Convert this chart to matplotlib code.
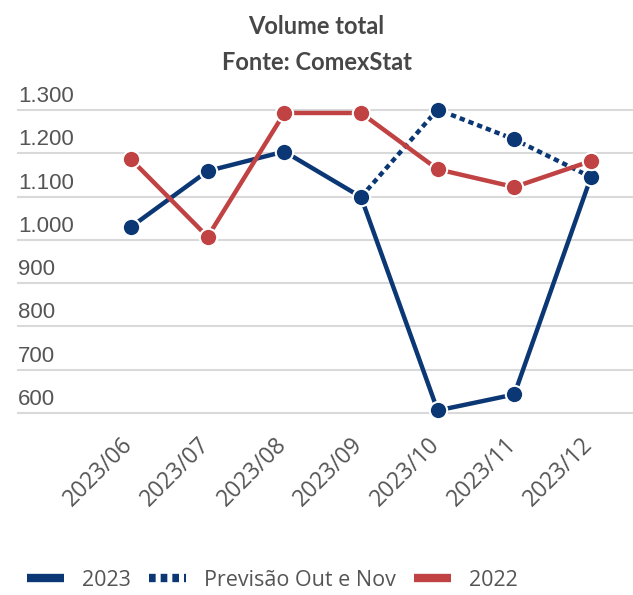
import matplotlib
matplotlib.use("Agg")
import matplotlib.pyplot as plt
from matplotlib.lines import Line2D
from matplotlib.transforms import blended_transform_factory, ScaledTranslation

months = ["2023/06", "2023/07", "2023/08", "2023/09", "2023/10", "2023/11", "2023/12"]
vol_2023 = [1030, 1159, 1204, 1099, 606, 643, 1145]
vol_prev = [None, None, None, 1099, 1301, 1232, 1145]
vol_2022 = [1186, 1007, 1293, 1293, 1163, 1122, 1182]
yticks = [600, 700, 800, 900, 1000, 1100, 1200, 1300]
ylabels = ["600", "700", "800", "900", "1.000", "1.100", "1.200", "1.300"]

navy = "#0b3875"
red = "#c14242"
grey_txt = "#555555"

fig = plt.figure(figsize=(6.33, 5.95), dpi=100)
W, H = 633, 595
ax = fig.add_axes([17 / W, (H - 420) / H, (633 - 17) / W, 320 / H])

x = list(range(len(months)))
xp = [i for i, v in zip(x, vol_prev) if v is not None]
yp = [v for v in vol_prev if v is not None]

mk = dict(marker="o", markersize=12.5, markeredgecolor="white", markeredgewidth=1.5)
ax.plot(xp, yp, color=navy, lw=3.2, ls=(0, (1.2, 0.9)), zorder=3, **mk)
ax.plot(x, vol_2023, color=navy, lw=3.2, zorder=4, solid_capstyle="butt", **mk)
ax.plot(x, vol_2022, color=red, lw=3.2, zorder=5, **mk)

ax.set_xlim(-1.487, 6.548)
ax.set_ylim(584, 1323)
ax.set_yticks(yticks)
ax.set_yticklabels([])
ax.tick_params(axis="y", length=0)
ax.grid(axis="y", color="#d9d9d9", lw=1.5, zorder=0)
for s in ax.spines.values():
    s.set_visible(False)

trans = blended_transform_factory(fig.transFigure, ax.transData)
for v, lab in zip(yticks, ylabels):
    fig.text(18 / W, v + 7, lab, transform=trans, ha="left", va="bottom",
             fontsize=16, color=grey_txt, family="Liberation Sans")

ax.set_xticks(x)
ax.set_xticklabels(months, rotation=45, ha="right", va="top", rotation_mode="anchor",
                   fontsize=16.5, color=grey_txt, family="Open Sans")
ax.tick_params(axis="x", length=0, pad=9)
shift = ScaledTranslation(-10 / 100, 0, fig.dpi_scale_trans)
for lbl in ax.get_xticklabels():
    lbl.set_transform(lbl.get_transform() + shift)

fig.text(0.5, 1 - 27 / H, "Volume total", ha="center", va="center",
         fontsize=17, fontweight="bold", color="#474747", family="Lato")
fig.text(0.5, 1 - 62 / H, "Fonte: ComexStat", ha="center", va="center",
         fontsize=17, fontweight="bold", color="#474747", family="Lato")

handles = [
    Line2D([], [], color=navy, lw=6, solid_capstyle="butt"),
    Line2D([], [], color=navy, lw=6, ls=(0, (0.8, 0.6))),
    Line2D([], [], color=red, lw=6, solid_capstyle="butt"),
]
fig.legend(handles, ["2023", "Previsão Out e Nov", "2022"], loc="center",
           bbox_to_anchor=(272 / W, 1 - 580 / H), ncol=3, frameon=False,
           prop={"family": "Open Sans", "size": 15.5}, labelcolor=grey_txt,
           handlelength=1.75, handletextpad=0.8, columnspacing=0.85)

fig.savefig("out.png", dpi=100)
